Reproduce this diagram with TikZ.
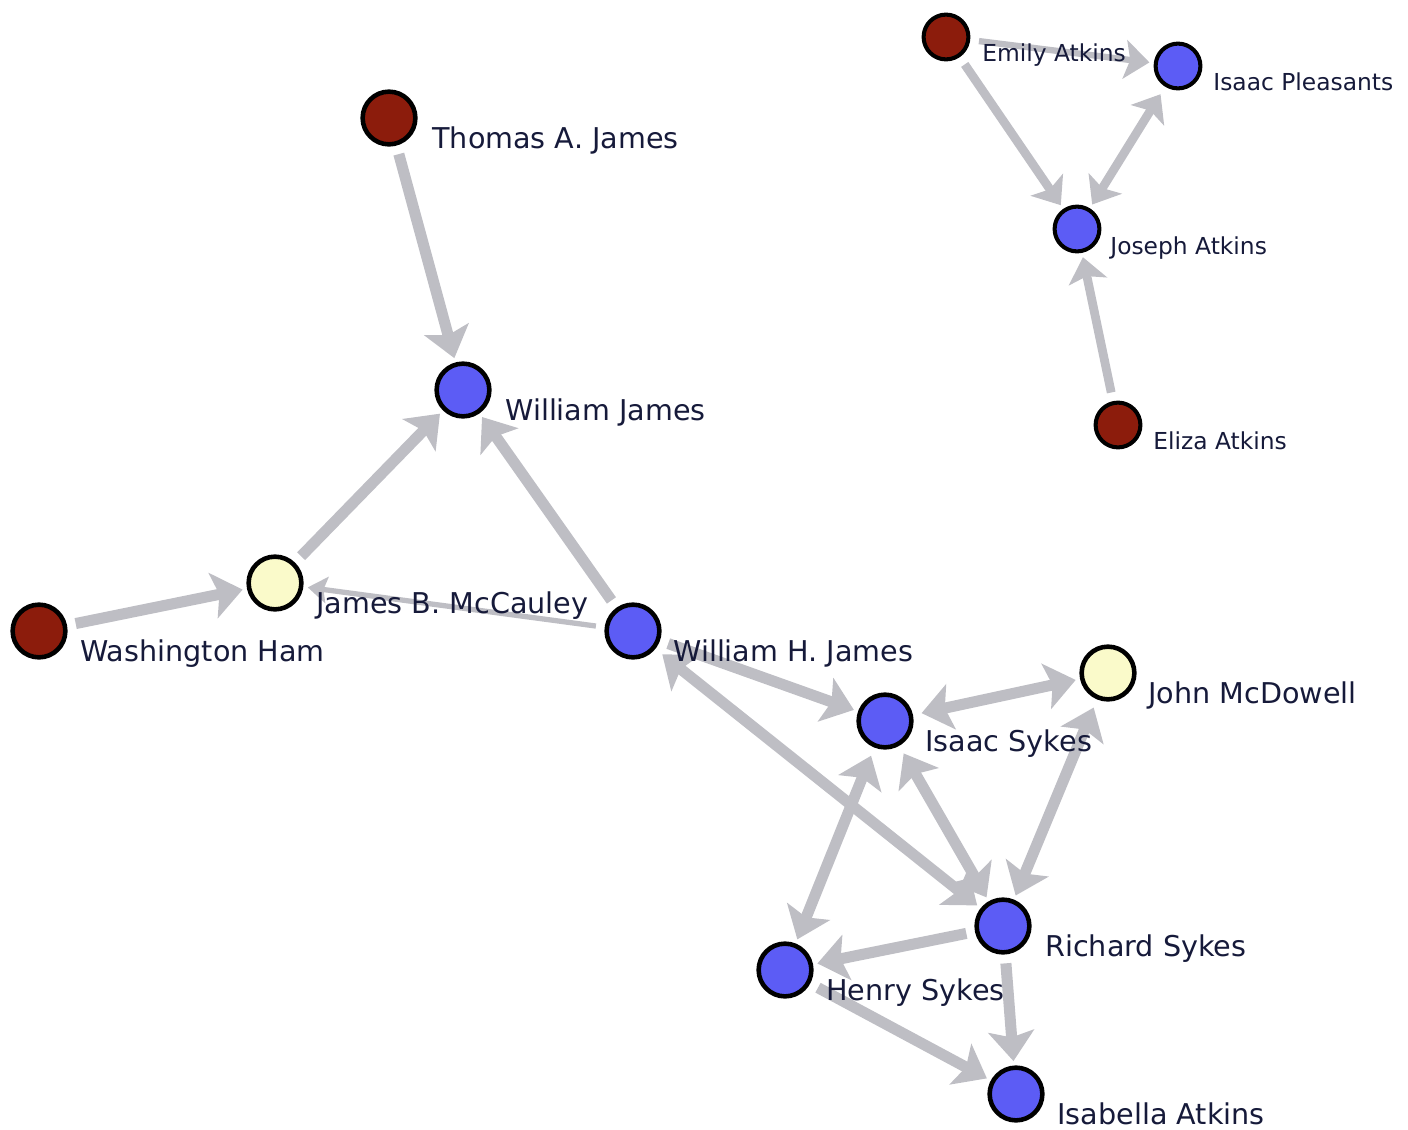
\documentclass[tikz,border=0pt]{standalone}
\usepackage{fontspec}
\setmainfont{DejaVu Sans}
\usetikzlibrary{arrows.meta,backgrounds}
\definecolor{bred}{RGB}{140,28,12}
\definecolor{bblue}{RGB}{92,92,245}
\definecolor{byell}{RGB}{250,250,202}
\definecolor{egray}{RGB}{190,190,196}
\definecolor{ink}{RGB}{22,26,58}
\begin{document}
\begin{tikzpicture}[x=0.02cm,y=-0.02cm,>={Stealth[length=17pt,width=26pt,inset=3.5pt]},line join=round,
 person/.style={circle,draw=black,line width=2.6pt,minimum size=30pt,inner sep=0pt},
 sperson/.style={circle,draw=black,line width=2.3pt,minimum size=25.5pt,inner sep=0pt},
 nm/.style={anchor=base west,inner sep=0pt,text=ink,font=\fontsize{16.3}{19}\selectfont},
 snm/.style={nm,font=\fontsize{13.3}{16}\selectfont},
 edge/.style={draw=egray,line width=6.3pt,shorten >=2.5pt,shorten <=5pt},
 sedge/.style={edge,line width=5pt,>={Stealth[length=14pt,width=22pt,inset=3pt]}},
 thinedge/.style={edge,line width=3pt,>={Stealth[length=11pt,width=15pt,inset=2pt]}}]
\useasboundingbox (0,0) rectangle (1408,1129);
% Atkins group, top right
\node[sperson,fill=bred] (emily) at (946,37) {};
\node[sperson,fill=bblue] (pleasants) at (1178,66) {};
\node[sperson,fill=bblue] (joseph) at (1077,229) {};
\node[sperson,fill=bred] (eliza) at (1118,425) {};
\node[snm] (emilyN) at ([shift={(36,24)}]emily.center) {Emily Atkins};
\node[snm] (pleasantsN) at ([shift={(35,24)}]pleasants.center) {Isaac Pleasants};
\node[snm] (josephN) at ([shift={(33,25)}]joseph.center) {Joseph Atkins};
\node[snm] (elizaN) at ([shift={(35,24)}]eliza.center) {Eliza Atkins};
% main group
\node[person,fill=bred] (thomas) at (389,118) {};
\node[person,fill=bblue] (wjames) at (463,390) {};
\node[person,fill=byell] (mccauley) at (275,583) {};
\node[person,fill=bred] (ham) at (39,631) {};
\node[person,fill=bblue] (whjames) at (633,631) {};
\node[person,fill=bblue] (isykes) at (885,721) {};
\node[person,fill=byell] (mcdowell) at (1108,673) {};
\node[person,fill=bblue] (rsykes) at (1003,926) {};
\node[person,fill=bblue] (hsykes) at (785,970) {};
\node[person,fill=bblue] (isabella) at (1016,1094) {};
\node[nm] (thomasN) at ([shift={(43,30)}]thomas.center) {Thomas A. James};
\node[nm] (wjamesN) at ([shift={(42,30)}]wjames.center) {William James};
\node[nm] (mccauleyN) at ([shift={(41,30)}]mccauley.center) {James B. McCauley};
\node[nm] (hamN) at ([shift={(41,30)}]ham.center) {Washington Ham};
\node[nm] (whjamesN) at ([shift={(40,30)}]whjames.center) {William H. James};
\node[nm] (isykesN) at ([shift={(40,30)}]isykes.center) {Isaac Sykes};
\node[nm] (mcdowellN) at ([shift={(40,30)}]mcdowell.center) {John McDowell};
\node[nm] (rsykesN) at ([shift={(42,30)}]rsykes.center) {Richard Sykes};
\node[nm] (hsykesN) at ([shift={(41,30)}]hsykes.center) {Henry Sykes};
\node[nm] (isabellaN) at ([shift={(41,30)}]isabella.center) {Isabella Atkins};
\begin{pgfonlayer}{background}
\draw[sedge,->,line width=3.6pt] (emily) -- (pleasants);
\draw[sedge,->] (emily) -- (joseph);
\draw[sedge,<->] (pleasants) -- (joseph);
\draw[sedge,->] (eliza) -- (joseph);
\draw[edge,->] (thomas) -- (wjames);
\draw[edge,->] (mccauley) -- (wjames);
\draw[edge,->] (whjames) -- (wjames);
\draw[edge,->] (ham) -- (mccauley);
\draw[thinedge,->] (whjames) -- (mccauley);
\draw[edge,->] (whjames) -- (isykes);
\draw[edge,<->] (whjames) -- (rsykes);
\draw[edge,<->] (isykes) -- (mcdowell);
\draw[edge,<->] (isykes) -- (rsykes);
\draw[edge,<->] (isykes) -- (hsykes);
\draw[edge,<->] (mcdowell) -- (rsykes);
\draw[edge,->] (rsykes) -- (hsykes);
\draw[edge,->] (rsykes) -- (isabella);
\draw[edge,->] (hsykes) -- (isabella);
\end{pgfonlayer}
\end{tikzpicture}
\end{document}
